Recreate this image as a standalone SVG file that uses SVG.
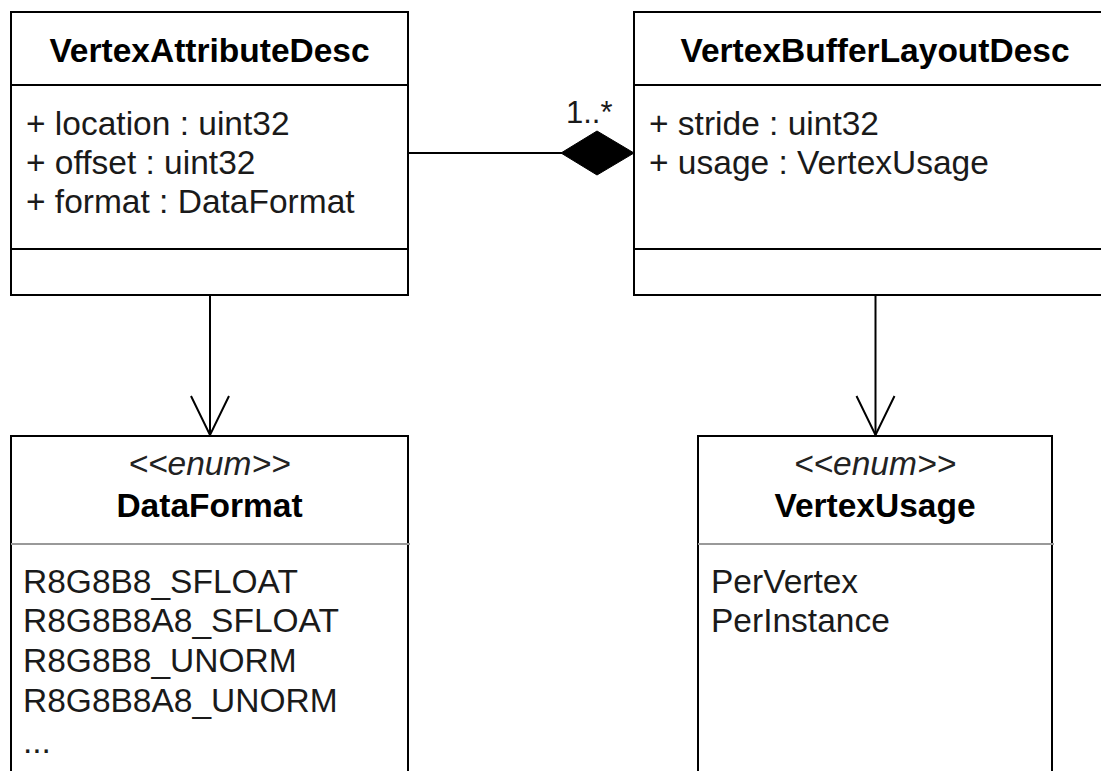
<svg xmlns="http://www.w3.org/2000/svg" width="1101" height="771" viewBox="0 0 1101 771">
  <style>
    .box { fill: #ffffff; stroke: #000000; stroke-width: 2; }
    .sep { stroke: #000000; stroke-width: 2; }
    .sep-enum { stroke: #999999; stroke-width: 2; }
    .title { font-family: "Liberation Sans", Arial, sans-serif; font-size: 33.5px; font-weight: bold; fill: #000000; text-anchor: middle; }
    .stereo { font-family: "Liberation Sans", Arial, sans-serif; font-size: 33.5px; font-style: italic; fill: #222222; text-anchor: middle; }
    .item { font-family: "Liberation Sans", Arial, sans-serif; font-size: 33.5px; fill: #1a1a1a; }
    .edge { fill: none; stroke: #000000; stroke-width: 2; }
  </style>

  <!-- class: VertexAttributeDesc -->
  <g id="vertex-attribute-desc">
    <rect class="box" x="11" y="12" width="397" height="283"/>
    <line class="sep" x1="11" y1="85" x2="408" y2="85"/>
    <line class="sep" x1="11" y1="249" x2="408" y2="249"/>
    <text class="title" x="209.5" y="62">VertexAttributeDesc</text>
    <text class="item" x="26" y="135">+ location : uint32</text>
    <text class="item" x="26" y="174">+ offset : uint32</text>
    <text class="item" x="26" y="213">+ format : DataFormat</text>
  </g>

  <!-- class: VertexBufferLayoutDesc -->
  <g id="vertex-buffer-layout-desc">
    <rect class="box" x="634" y="12" width="482" height="283"/>
    <line class="sep" x1="634" y1="85" x2="1116" y2="85"/>
    <line class="sep" x1="634" y1="249" x2="1116" y2="249"/>
    <text class="title" x="875" y="62">VertexBufferLayoutDesc</text>
    <text class="item" x="649" y="135">+ stride : uint32</text>
    <text class="item" x="649" y="174">+ usage : VertexUsage</text>
  </g>

  <!-- enum: DataFormat -->
  <g id="data-format">
    <rect class="box" x="11" y="436" width="397" height="360"/>
    <line class="sep-enum" x1="11" y1="544" x2="410" y2="544"/>
    <text class="stereo" x="209.5" y="475">&lt;&lt;enum&gt;&gt;</text>
    <text class="title" x="209.5" y="517">DataFormat</text>
    <text class="item" x="23" y="593">R8G8B8_SFLOAT</text>
    <text class="item" x="23" y="632">R8G8B8A8_SFLOAT</text>
    <text class="item" x="23" y="672">R8G8B8_UNORM</text>
    <text class="item" x="23" y="712">R8G8B8A8_UNORM</text>
    <text class="item" x="23" y="753">...</text>
  </g>

  <!-- enum: VertexUsage -->
  <g id="vertex-usage">
    <rect class="box" x="698" y="436" width="354" height="360"/>
    <line class="sep-enum" x1="698" y1="544" x2="1054" y2="544"/>
    <text class="stereo" x="875" y="475">&lt;&lt;enum&gt;&gt;</text>
    <text class="title" x="875" y="517">VertexUsage</text>
    <text class="item" x="711" y="593">PerVertex</text>
    <text class="item" x="711" y="632">PerInstance</text>
  </g>

  <!-- connectors -->
  <g id="connectors">
    <!-- composition: attribute descs belong to the buffer layout -->
    <line class="edge" x1="408" y1="153" x2="562" y2="153"/>
    <polygon points="561,153 597,131 634,153 597,175" fill="#000000" stroke="#000000" stroke-width="1"/>
    <text class="item" x="566" y="123" style="font-size:31px">1..*</text>
    <!-- associations to the enums, open arrowheads -->
    <line class="edge" x1="210" y1="295" x2="210" y2="435"/>
    <path class="edge" d="M191,396 L210,435 L229,396"/>
    <line class="edge" x1="875.5" y1="295" x2="875.5" y2="435"/>
    <path class="edge" d="M856.5,396 L875.5,435 L894.5,396"/>
  </g>
</svg>
